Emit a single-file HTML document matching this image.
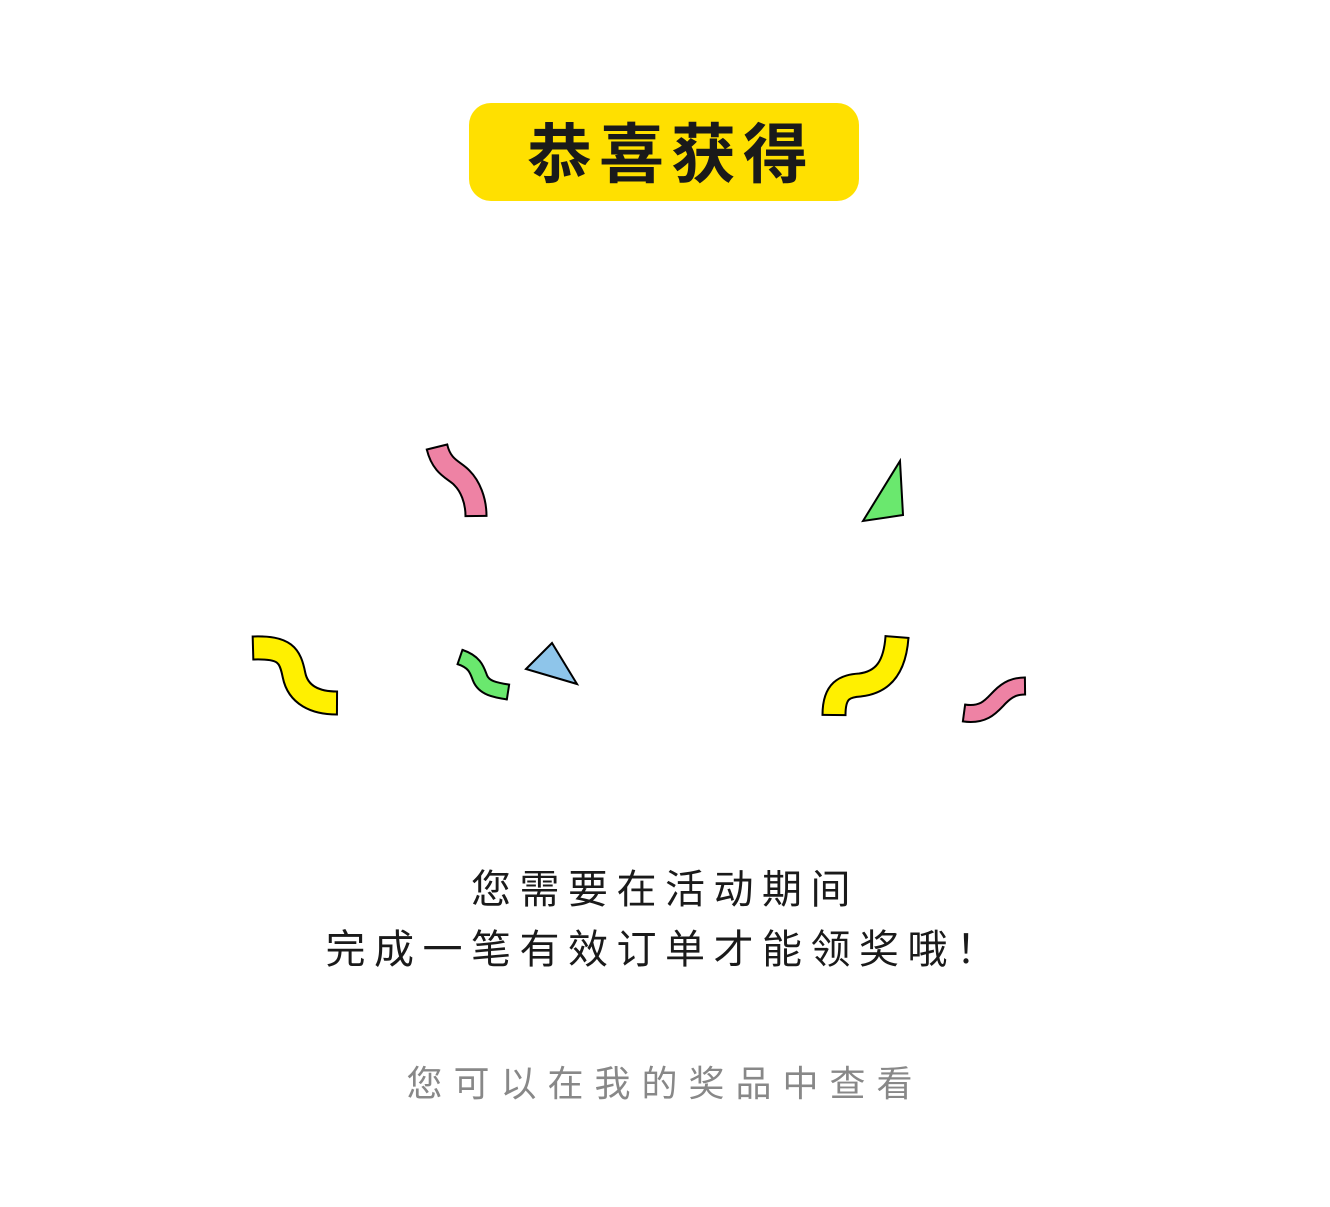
<!DOCTYPE html>
<html><head><meta charset="utf-8"><style>
html,body{margin:0;padding:0;background:#fff;}
body{width:1330px;height:1207px;position:relative;overflow:hidden;font-family:"Liberation Sans","Noto Sans CJK SC",sans-serif;}
#badge{position:absolute;left:469px;top:103px;width:390px;height:98px;background:#FFE000;border-radius:22px;}
#badge-text{position:absolute;left:527px;top:114px;font-size:65px;line-height:82px;font-weight:bold;letter-spacing:7px;color:#1a1a1a;white-space:nowrap;}
.line{position:absolute;left:0;width:1330px;text-align:center;color:#1a1a1a;font-size:40px;letter-spacing:8.5px;white-space:nowrap;}
#hint{position:absolute;left:0;width:1330px;text-align:center;color:#888;font-size:36px;letter-spacing:11px;top:1060px;line-height:48px;white-space:nowrap;}
svg{position:absolute;left:0;top:0;}
</style></head><body>
<div id="badge"></div>
<div id="badge-text">恭喜获得</div>
<svg id="conf" width="1330" height="1207">
<g fill="none" stroke-linecap="butt">
<path class="rib" data-w="19" d="M437,447 C442,468 455,470 462,478 C470,486 476,500 476,516" stroke="#000" stroke-width="23"/>
<path d="M437,447 C442,468 455,470 462,478 C470,486 476,500 476,516" stroke="#EE82A4" stroke-width="19"/>
<path class="rib" data-w="21" d="M253,648 C285,647 290,655 294,675 C298,695 315,703 337,703" stroke="#000" stroke-width="25"/>
<path d="M253,648 C285,647 290,655 294,675 C298,695 315,703 337,703" stroke="#FFF000" stroke-width="21"/>
<path class="rib" data-w="13" d="M460,657 C475,662 477,670 480,678 C484,688 495,690 508,692" stroke="#000" stroke-width="17"/>
<path d="M460,657 C475,662 477,670 480,678 C484,688 495,690 508,692" stroke="#6AE86E" stroke-width="13"/>
<path class="rib" data-w="21" d="M834,715 C834,690 845,686 860,685 C885,682 895,665 897,637" stroke="#000" stroke-width="25"/>
<path d="M834,715 C834,690 845,686 860,685 C885,682 895,665 897,637" stroke="#FFF000" stroke-width="21"/>
<path class="rib" data-w="15" d="M964,713 C985,716 992,705 1000,697 C1008,689 1015,686 1025,686" stroke="#000" stroke-width="19"/>
<path d="M964,713 C985,716 992,705 1000,697 C1008,689 1015,686 1025,686" stroke="#EE82A4" stroke-width="15"/>
</g>
<polygon points="526,669 552,643 577,684" fill="#8EC5EA" stroke="#000" stroke-width="2"/>
<polygon points="863,521 900,461 903,515" fill="#6AE86E" stroke="#000" stroke-width="2"/>
</svg>
<div class="line" style="top:862px;line-height:56px;">您需要在活动期间</div>
<div class="line" style="top:922px;line-height:56px;">完成一笔有效订单才能领奖哦！</div>
<div id="hint">您可以在我的奖品中查看</div>
<script>
var svg = document.getElementById('conf');
var ns = 'http://www.w3.org/2000/svg';
document.querySelectorAll('.rib').forEach(function(p){
  var L = p.getTotalLength();
  var hw = (parseFloat(p.getAttribute('data-w')) + 4) / 2;
  [[0, 1], [L, -1]].forEach(function(e){
    var a = p.getPointAtLength(e[0]);
    var b = p.getPointAtLength(e[0] === 0 ? 1 : L - 1);
    var dx = (b.x - a.x) * e[1], dy = (b.y - a.y) * e[1];
    var m = Math.hypot(dx, dy) || 1;
    var nx = -dy / m * hw, ny = dx / m * hw;
    var ln = document.createElementNS(ns, 'line');
    
    
    ln.setAttribute('x1', a.x + nx); ln.setAttribute('y1', a.y + ny);
    ln.setAttribute('x2', a.x - nx); ln.setAttribute('y2', a.y - ny);
    ln.setAttribute('stroke', '#000'); ln.setAttribute('stroke-width', '2');
    svg.appendChild(ln);
  });
});
</script>
</body></html>
